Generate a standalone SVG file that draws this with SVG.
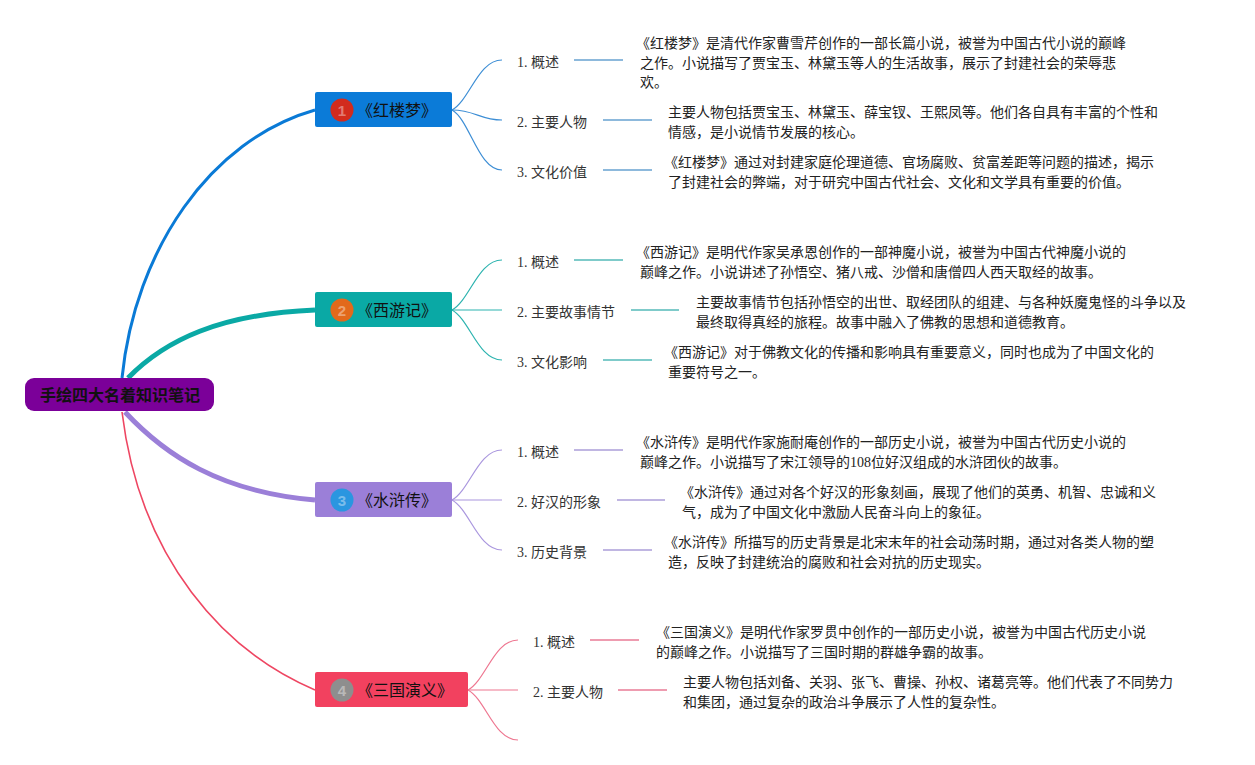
<svg xmlns="http://www.w3.org/2000/svg" width="1255" height="765" viewBox="0 0 1255 765">
<style>
.desc{font-family:"Liberation Serif","Noto Sans CJK SC",sans-serif;font-size:14px;fill:#222}
.lbl{font-family:"Liberation Serif","Noto Sans CJK SC",sans-serif;font-size:14px;fill:#333}
.main{font-family:"Noto Sans CJK SC",sans-serif;font-size:16px;fill:#111}
.root{font-family:"Noto Sans CJK SC",sans-serif;font-size:16px;font-weight:bold;fill:#111}
.num{font-family:"Liberation Sans","Noto Sans",sans-serif;font-size:15px;font-weight:bold;fill:#fff;fill-opacity:0.4}
.br{fill:none;stroke-width:1.2}
.hl{fill:none;stroke-width:2}
</style>
<rect width="1255" height="765" fill="#fff"/>
<g id="connectors">
  <path d="M122,378 C135,250 210,140 315,110" fill="none" stroke="#0A7AD6" stroke-width="3"/>
  <path d="M128,378 C165,340 220,314 315,310" fill="none" stroke="#0AA9A5" stroke-width="5"/>
  <path d="M125,412 C165,455 220,492 315,500" fill="none" stroke="#9B7FD8" stroke-width="5"/>
  <path d="M122,412 C140,560 225,652 315,690" fill="none" stroke="#EE4662" stroke-width="1.6"/>
  <g stroke="#3D8ED5">
    <path class="br" d="M452,110 C470,100 478,60 502,60"/>
    <path class="br" d="M452,110 C475,110 480,120 502,120"/>
    <path class="br" d="M452,110 C470,120 478,170 502,170"/>
  </g>
  <g stroke="#8DB9DC">
    <path class="hl" d="M574,60 H623"/>
    <path class="hl" d="M603,120 H652"/>
    <path class="hl" d="M603,170 H652"/>
  </g>
  <g stroke="#2CB3AF">
    <path class="br" d="M452,310 C470,300 478,260 502,260"/>
    <path class="br" d="M452,310 H502"/>
    <path class="br" d="M452,310 C470,320 478,360 502,360"/>
  </g>
  <g stroke="#7FCBCA">
    <path class="hl" d="M574,260 H623"/>
    <path class="hl" d="M631,310 H679"/>
    <path class="hl" d="M603,360 H652"/>
  </g>
  <g stroke="#A996DE">
    <path class="br" d="M452,500 C470,490 478,450 502,450"/>
    <path class="br" d="M452,500 H502"/>
    <path class="br" d="M452,500 C470,510 478,550 502,550"/>
  </g>
  <g stroke="#C0B6E2">
    <path class="hl" d="M574,450 H623"/>
    <path class="hl" d="M617,500 H665"/>
    <path class="hl" d="M603,550 H652"/>
  </g>
  <g stroke="#EE7690">
    <path class="br" d="M468,690 C486,680 494,640 518,640"/>
    <path class="br" d="M468,690 H518"/>
    <path class="br" d="M468,690 C486,700 494,740 518,740"/>
  </g>
  <g stroke="#EE9CB0">
    <path class="hl" d="M590,640 H639"/>
    <path class="hl" d="M618,690 H667"/>
  </g>
</g>
<g id="root">
  <rect x="25" y="378" width="189" height="33" rx="9" fill="#7B0099"/>
  <text class="root" x="120" y="400.5" text-anchor="middle">手绘四大名着知识笔记</text>
</g>
<g id="n1">
  <rect x="315" y="92" width="137" height="35" rx="2" fill="#0B7BD8"/>
  <circle cx="342" cy="110" r="11.5" fill="#D22B1D"/>
  <text class="num" x="342" y="115.5" text-anchor="middle">1</text>
  <text class="main" x="357" y="115.5">《红楼梦》</text>
</g>
<g id="n2">
  <rect x="315" y="292" width="137" height="35" rx="2" fill="#0AA9A5"/>
  <circle cx="342" cy="310" r="11.5" fill="#E2691B"/>
  <text class="num" x="342" y="315.5" text-anchor="middle">2</text>
  <text class="main" x="357" y="315.5">《西游记》</text>
</g>
<g id="n3">
  <rect x="315" y="482" width="137" height="35" rx="2" fill="#9B7FD8"/>
  <circle cx="342" cy="500" r="11.5" fill="#2A96E0"/>
  <text class="num" x="342" y="505.5" text-anchor="middle">3</text>
  <text class="main" x="357" y="505.5">《水浒传》</text>
</g>
<g id="n4">
  <rect x="315" y="672" width="153" height="35" rx="2" fill="#F2415F"/>
  <circle cx="342" cy="690" r="11.5" fill="#8E8E8E"/>
  <text class="num" x="342" y="695.5" text-anchor="middle">4</text>
  <text class="main" x="357" y="695.5">《三国演义》</text>
</g>
<g id="n1-1">
  <text class="lbl" x="517" y="66.5">1. 概述</text>
  <text class="desc" x="636" y="48">《红楼梦》是清代作家曹雪芹创作的一部长篇小说，被誉为中国古代小说的巅峰</text>
  <text class="desc" x="640" y="67.5">之作。小说描写了贾宝玉、林黛玉等人的生活故事，展示了封建社会的荣辱悲</text>
  <text class="desc" x="640" y="87">欢。</text>
</g>
<g id="n1-2">
  <text class="lbl" x="517" y="126.5">2. 主要人物</text>
  <text class="desc" x="668" y="117">主要人物包括贾宝玉、林黛玉、薛宝钗、王熙凤等。他们各自具有丰富的个性和</text>
  <text class="desc" x="668" y="137">情感，是小说情节发展的核心。</text>
</g>
<g id="n1-3">
  <text class="lbl" x="517" y="176.5">3. 文化价值</text>
  <text class="desc" x="664" y="167">《红楼梦》通过对封建家庭伦理道德、官场腐败、贫富差距等问题的描述，揭示</text>
  <text class="desc" x="668" y="187">了封建社会的弊端，对于研究中国古代社会、文化和文学具有重要的价值。</text>
</g>
<g id="n2-1">
  <text class="lbl" x="517" y="266.5">1. 概述</text>
  <text class="desc" x="636" y="257">《西游记》是明代作家吴承恩创作的一部神魔小说，被誉为中国古代神魔小说的</text>
  <text class="desc" x="640" y="277">巅峰之作。小说讲述了孙悟空、猪八戒、沙僧和唐僧四人西天取经的故事。</text>
</g>
<g id="n2-2">
  <text class="lbl" x="517" y="316.5">2. 主要故事情节</text>
  <text class="desc" x="696" y="307">主要故事情节包括孙悟空的出世、取经团队的组建、与各种妖魔鬼怪的斗争以及</text>
  <text class="desc" x="696" y="327">最终取得真经的旅程。故事中融入了佛教的思想和道德教育。</text>
</g>
<g id="n2-3">
  <text class="lbl" x="517" y="366.5">3. 文化影响</text>
  <text class="desc" x="664" y="357">《西游记》对于佛教文化的传播和影响具有重要意义，同时也成为了中国文化的</text>
  <text class="desc" x="668" y="377">重要符号之一。</text>
</g>
<g id="n3-1">
  <text class="lbl" x="517" y="456.5">1. 概述</text>
  <text class="desc" x="636" y="447">《水浒传》是明代作家施耐庵创作的一部历史小说，被誉为中国古代历史小说的</text>
  <text class="desc" x="640" y="467">巅峰之作。小说描写了宋江领导的108位好汉组成的水浒团伙的故事。</text>
</g>
<g id="n3-2">
  <text class="lbl" x="517" y="506.5">2. 好汉的形象</text>
  <text class="desc" x="680" y="497">《水浒传》通过对各个好汉的形象刻画，展现了他们的英勇、机智、忠诚和义</text>
  <text class="desc" x="682" y="517">气，成为了中国文化中激励人民奋斗向上的象征。</text>
</g>
<g id="n3-3">
  <text class="lbl" x="517" y="556.5">3. 历史背景</text>
  <text class="desc" x="664" y="547">《水浒传》所描写的历史背景是北宋末年的社会动荡时期，通过对各类人物的塑</text>
  <text class="desc" x="668" y="567">造，反映了封建统治的腐败和社会对抗的历史现实。</text>
</g>
<g id="n4-1">
  <text class="lbl" x="533" y="646.5">1. 概述</text>
  <text class="desc" x="656" y="637">《三国演义》是明代作家罗贯中创作的一部历史小说，被誉为中国古代历史小说</text>
  <text class="desc" x="656" y="657">的巅峰之作。小说描写了三国时期的群雄争霸的故事。</text>
</g>
<g id="n4-2">
  <text class="lbl" x="533" y="696.5">2. 主要人物</text>
  <text class="desc" x="683" y="687">主要人物包括刘备、关羽、张飞、曹操、孙权、诸葛亮等。他们代表了不同势力</text>
  <text class="desc" x="683" y="707">和集团，通过复杂的政治斗争展示了人性的复杂性。</text>
</g>
</svg>
